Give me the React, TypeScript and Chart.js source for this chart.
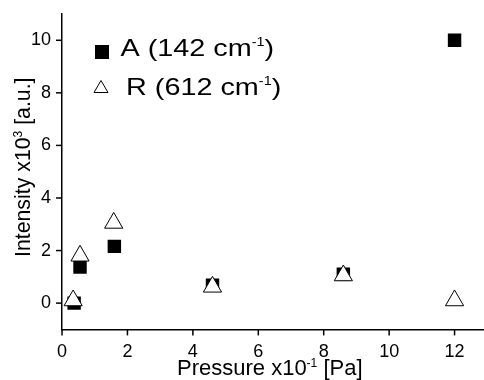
import React, { useEffect, useRef } from "react";
import { Chart, registerables } from "chart.js";

Chart.register(...registerables);

// ---- data ----
const PRESSURE_A = [0.37, 0.55, 1.6, 4.6, 8.6, 12.0];
const INTENSITY_A = [0.0, 1.37, 2.16, 0.68, 1.1, 10.0];
const PRESSURE_R = [0.34, 0.55, 1.58, 4.6, 8.6, 12.0];
const INTENSITY_R = [0.1, 1.8, 3.05, 0.62, 1.05, 0.1];
const X_LABELS = [0, 2, 4, 6, 8, 10, 12];
const Y_LABELS = [0, 2, 4, 6, 8, 10];
const LEGEND_A = ["A (142 cm", "-1", ")"];
const LEGEND_R = ["R (612 cm", "-1", ")"];
const X_TITLE = ["Pressure x10", "-1", " [Pa]"];
const Y_TITLE = ["Intensity x10", "3", " [a.u.]"];

const FONT = "'Liberation Sans', Arial, sans-serif";

function drawRich(
  ctx: CanvasRenderingContext2D,
  parts: string[],
  x: number,
  y: number,
  size: number,
  supSize: number,
  rise: number,
  scaleX = 1
) {
  ctx.save();
  ctx.translate(x, y);
  ctx.scale(scaleX, 1);
  ctx.textBaseline = "alphabetic";
  ctx.textAlign = "left";
  let cx = 0;
  parts.forEach((p, i) => {
    const sup = i % 2 === 1;
    ctx.font = `${sup ? supSize : size}px ${FONT}`;
    ctx.fillText(p, cx, sup ? -rise : 0);
    cx += ctx.measureText(p).width;
  });
  ctx.restore();
}

const overlay = {
  id: "overlay",
  afterDraw(chart: any) {
    const ctx: CanvasRenderingContext2D = chart.ctx;
    const xs = chart.scales.x;
    const ys = chart.scales.y;
    const { left, bottom } = chart.chartArea;
    ctx.save();
    ctx.strokeStyle = "#000";
    ctx.fillStyle = "#000";
    ctx.lineWidth = 1.5;
    // x ticks
    xs.ticks.forEach((t: any) => {
      const px = xs.getPixelForValue(t.value);
      const major = X_LABELS.includes(t.value);
      ctx.beginPath();
      ctx.moveTo(px, bottom);
      ctx.lineTo(px, bottom + (major ? 6 : 3));
      ctx.stroke();
    });
    ys.ticks.forEach((t: any) => {
      const py = ys.getPixelForValue(t.value);
      const major = Y_LABELS.includes(t.value);
      ctx.beginPath();
      ctx.moveTo(left, py);
      ctx.lineTo(left - (major ? 6 : 3), py);
      ctx.stroke();
    });
    // axis titles
    drawRich(ctx, X_TITLE, 177, 375, 22, 12, 8.5);
    ctx.save();
    ctx.translate(29.5, 257);
    ctx.rotate(-Math.PI / 2);
    drawRich(ctx, Y_TITLE, 0, 0, 21.3, 12, 8);
    ctx.restore();
    // legend
    ctx.fillRect(95, 45, 14, 14);
    drawRich(ctx, LEGEND_A, 120.5, 56, 24, 12, 10, 1.2);
    ctx.beginPath();
    ctx.lineWidth = 1;
    ctx.moveTo(101, 80.5);
    ctx.lineTo(108, 92.5);
    ctx.lineTo(94, 92.5);
    ctx.closePath();
    ctx.fillStyle = "#fff";
    ctx.fill();
    ctx.stroke();
    ctx.fillStyle = "#000";
    drawRich(ctx, LEGEND_R, 126, 95, 24, 12, 10, 1.2);
    ctx.restore();
  },
};

const noPad = (scale: any) => {
  scale.paddingTop = 0;
  scale.paddingBottom = 0;
  scale.paddingLeft = 0;
  scale.paddingRight = 0;
};

export default function App() {
  const ref = useRef<HTMLCanvasElement>(null);
  useEffect(() => {
    document.body.style.margin = "0";
    const chart = new Chart(ref.current!, {
      type: "scatter",
      data: {
        datasets: [
          {
            label: "R (612 cm-1)",
            data: PRESSURE_R.map((x, i) => ({ x, y: INTENSITY_R[i] })),
            pointStyle: "triangle",
            pointRadius: 10.5,
            pointBackgroundColor: "#fff",
            pointBorderColor: "#000",
            pointBorderWidth: 1,
            showLine: false,
          },
          {
            label: "A (142 cm-1)",
            data: PRESSURE_A.map((x, i) => ({ x, y: INTENSITY_A[i] })),
            pointStyle: "rect",
            pointRadius: 9.5,
            pointBackgroundColor: "#000",
            pointBorderColor: "#000",
            pointBorderWidth: 0,
            showLine: false,
          },
        ],
      },
      options: {
        responsive: false,
        animation: false,
        layout: { autoPadding: false, padding: { left: 20, top: 14, right: 0, bottom: 5 } },
        plugins: { legend: { display: false }, tooltip: { enabled: false } },
        scales: {
          x: {
            type: "linear",
            min: 0,
            max: 12.9,
            afterFit: noPad,
            grid: { display: false, drawTicks: false, tickLength: 0 },
            border: { display: true, color: "#000", width: 1.5 },
            ticks: {
              stepSize: 1,
              includeBounds: false,
              autoSkip: false,
              maxRotation: 0,
              padding: 12,
              color: "#000",
              font: { family: FONT, size: 18 },
              callback: (v: any) => (X_LABELS.includes(v) ? String(v) : null),
            },
          },
          y: {
            type: "linear",
            min: -1,
            max: 11,
            afterFit: noPad,
            grid: { display: false, drawTicks: false, tickLength: 0 },
            border: { display: true, color: "#000", width: 1.5 },
            ticks: {
              stepSize: 1,
              autoSkip: false,
              padding: 11,
              color: "#000",
              font: { family: FONT, size: 18 },
              callback: (v: any) => (Y_LABELS.includes(v) ? String(v) : null),
            },
          },
        },
      },
      plugins: [overlay],
    });
    return () => chart.destroy();
  }, []);
  return (
    <div style={{ position: "absolute", left: 0, top: 0, width: 484, height: 380 }}>
      <canvas ref={ref} width={484} height={380} />
    </div>
  );
}
